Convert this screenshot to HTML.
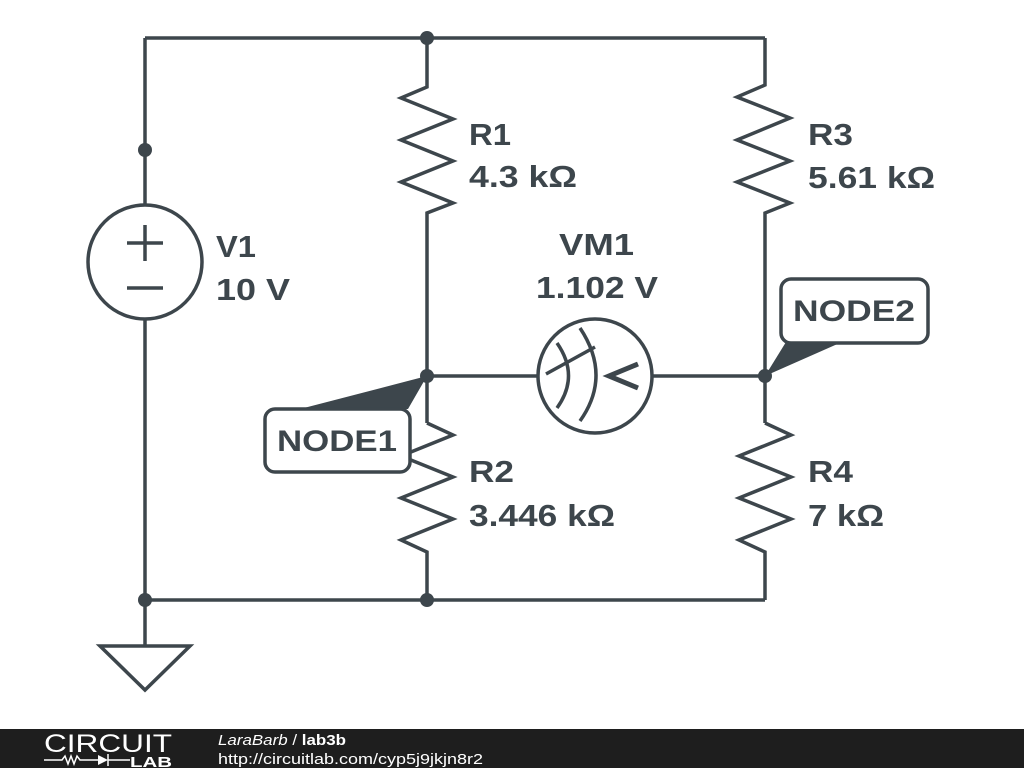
<!DOCTYPE html>
<html><head><meta charset="utf-8"><style>
html,body{margin:0;padding:0;background:#fff;}
svg{display:block}
text{font-family:"Liberation Sans",sans-serif;}
</style></head><body>
<svg width="1024" height="768" viewBox="0 0 1024 768" xmlns="http://www.w3.org/2000/svg">
<rect width="1024" height="768" fill="#fff"/>
<g stroke="#3d464c" stroke-width="3.5" fill="none" stroke-linejoin="miter">
<path d="M145 38 H765"/>
<path d="M145 38 V205 M145 319 V645"/>
<path d="M145 600 H765"/>
<path d="M427 38 V87 L401 98 L453 119 L401 140 L453 161 L401 182 L453 203 L427 213 V423"/>
<path d="M765 38 V85 L737 97 L790 118 L737 140 L790 161 L737 182 L790 203 L765 213 V423"/>
<path d="M427 423 L453 435 L401 456 L453 477 L401 498 L453 519 L401 540 L427 552 V600"/>
<path d="M765 423 L791 435 L739 456 L791 477 L739 498 L791 519 L739 540 L765 552 V600"/>
<path d="M427 376 H538 M652 376 H765"/>
<circle cx="145" cy="262" r="57"/>
<path d="M127 243 H163 M145 225 V261 M127 288 H163"/>
<circle cx="595" cy="376" r="57"/>
<path d="M557 343 Q580 376 557 408"/>
<path d="M580 328 Q612 376 580 421"/>
<path d="M546 374 L595 347"/>
<path d="M638 364 L609 376 L638 388" stroke-width="5"/>
<path d="M100 646 H190 L145 690 Z"/>
</g>
<g fill="#3d464c">
<circle cx="427" cy="38" r="7"/>
<circle cx="145" cy="150" r="7"/>
<circle cx="145" cy="600" r="7"/>
<circle cx="427" cy="600" r="7"/>
<circle cx="427" cy="376" r="7"/>
<circle cx="765" cy="376" r="7"/>
<polygon points="300,409 408,409 427,376"/>
<polygon points="786,342 842,342 765,376"/>
</g>
<rect x="265" y="409" width="145" height="63" rx="10" fill="#fff" stroke="#3d464c" stroke-width="3.5"/>
<rect x="781" y="279" width="147" height="64" rx="10" fill="#fff" stroke="#3d464c" stroke-width="3.5"/>
<g fill="#3d464c" font-weight="bold" font-size="31">
<text x="277" y="451" font-size="30" textLength="120" lengthAdjust="spacingAndGlyphs">NODE1</text>
<text x="793" y="321" font-size="30" textLength="122" lengthAdjust="spacingAndGlyphs">NODE2</text>
<text x="216" y="257" textLength="40" lengthAdjust="spacingAndGlyphs">V1</text>
<text x="216" y="300" textLength="74" lengthAdjust="spacingAndGlyphs">10 V</text>
<text x="469" y="145" textLength="42" lengthAdjust="spacingAndGlyphs">R1</text>
<text x="469" y="187" textLength="108" lengthAdjust="spacingAndGlyphs">4.3 kΩ</text>
<text x="808" y="145" textLength="45" lengthAdjust="spacingAndGlyphs">R3</text>
<text x="808" y="188" textLength="127" lengthAdjust="spacingAndGlyphs">5.61 kΩ</text>
<text x="469" y="482" textLength="45" lengthAdjust="spacingAndGlyphs">R2</text>
<text x="469" y="526" textLength="146" lengthAdjust="spacingAndGlyphs">3.446 kΩ</text>
<text x="808" y="482" textLength="45" lengthAdjust="spacingAndGlyphs">R4</text>
<text x="808" y="526" textLength="76" lengthAdjust="spacingAndGlyphs">7 kΩ</text>
<text x="559" y="255" textLength="75" lengthAdjust="spacingAndGlyphs">VM1</text>
<text x="536" y="298" textLength="122" lengthAdjust="spacingAndGlyphs">1.102 V</text>
</g>
<rect x="0" y="729" width="1024" height="39" fill="#1e1e1e"/>
<text x="44" y="752" fill="#fff" font-size="25" font-weight="300" textLength="128" lengthAdjust="spacingAndGlyphs">CIRCUIT</text>
<path d="M44 760 H62 l3 -4 l3 8 l3 -8 l3 8 l3 -8 l3 4 H98" stroke="#fff" stroke-width="1.5" fill="none"/>
<polygon points="98,755 108,760 98,765" fill="#fff"/>
<path d="M108 754 V766 M108 760 H130" stroke="#fff" stroke-width="1.5"/>
<text x="130" y="767" fill="#fff" font-size="15" font-weight="bold" textLength="42" lengthAdjust="spacingAndGlyphs">LAB</text>
<text x="218" y="745" fill="#fff" font-size="15" textLength="128" lengthAdjust="spacingAndGlyphs"><tspan font-style="italic">LaraBarb</tspan> / <tspan font-weight="bold">lab3b</tspan></text>
<text x="218" y="764" fill="#fff" font-size="15" textLength="265" lengthAdjust="spacingAndGlyphs">http://circuitlab.com/cyp5j9jkjn8r2</text>
</svg>
</body></html>
